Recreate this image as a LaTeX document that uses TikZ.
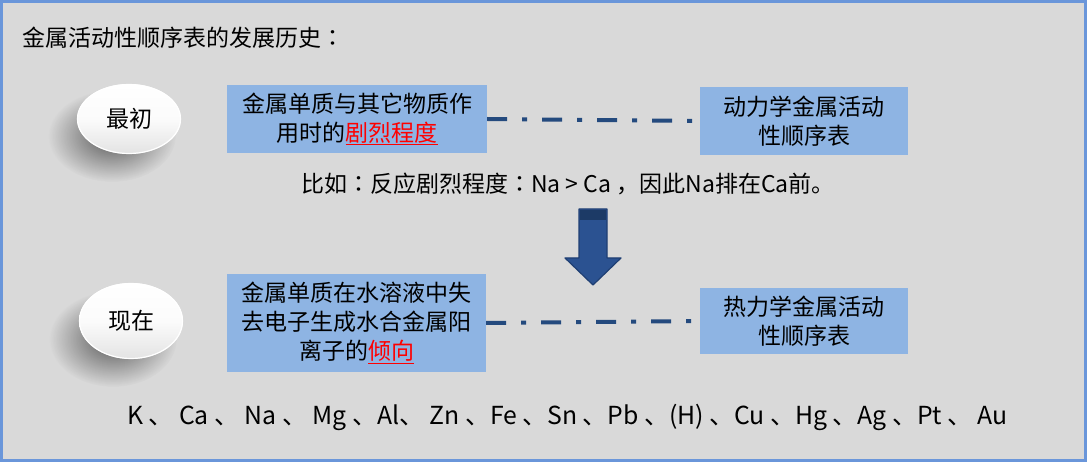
\documentclass[tikz,border=0pt]{standalone}
\usepackage{fontspec}
\setmainfont{Noto Sans CJK SC}
\newfontfamily\jpfont{Noto Sans CJK JP}
\usetikzlibrary{shapes.geometric,fadings}
\definecolor{bg}{HTML}{D9D9D9}
\definecolor{frame}{HTML}{6A96DA}
\definecolor{boxblue}{HTML}{8EB4E3}
\definecolor{dashblue}{HTML}{244A7E}
\definecolor{arrowfill}{HTML}{2B5291}
\definecolor{arrowedge}{HTML}{1F3F73}
\definecolor{arrowtop}{HTML}{1C3A66}
\tikzfading[name=softshadow, inner color=transparent!0, outer color=transparent!100]
\tikzset{
  txt/.style={font=\fontsize{23}{29}\selectfont, inner sep=0pt},
  infobox/.style={txt, fill=boxblue, align=center, minimum height=68, inner sep=0pt},
  bubble/.style={ellipse, txt, minimum width=104, minimum height=70,
    top color=white, bottom color=gray!22, middle color=white!97!gray},
  dashdot/.style={dashblue, line width=4, dash pattern=on 20 off 15 on 5 off 15},
  bubshadow/.style={black, opacity=0.6, path fading=softshadow}
}
\newcommand{\redul}[1]{\textcolor{red}{\underline{#1}}}
\newcommand{\zcolon}{{\jpfont ：}}
\newcommand{\zcomma}{{\jpfont ，}}
\begin{document}
\begin{tikzpicture}[x=1pt,y=-1pt]
\useasboundingbox (0,0) rectangle (1087,462);
\fill[bg] (0,0) rectangle (1087,462);
\draw[frame, line width=3] (1.5,1.5) rectangle (1085.5,460.5);

% title
\node[txt, anchor=west] (title) at (22,38) {金属活动性顺序表的发展历史\zcolon};

% shadows of bubbles
\fill[bubshadow] (112,136) ellipse (64 and 46);
\fill[bubshadow] (113,339) ellipse (64 and 48);

% bubbles
\node[bubble] (e1) at (129,119) {最初};
\draw[white, line width=1.2] (e1.center) ellipse (51.5 and 34.5);
\node[bubble, minimum height=76] (e2) at (131,321) {现在};
\draw[white, line width=1.2] (e2.center) ellipse (51.5 and 37.5);

% boxes
\node[infobox, minimum width=260] (b1) at (357,119) {金属单质与其它物质作\\用时的\redul{剧烈程度}};
\node[infobox, minimum width=208] (b2) at (804,121) {动力学金属活动\\性顺序表};
\node[infobox, minimum width=259, minimum height=98] (b3) at (356.5,323) {金属单质在水溶液中失\\去电子生成水合金属阳\\离子的\redul{倾向}};
\node[infobox, minimum width=208, minimum height=66] (b4) at (804,321) {热力学金属活动\\性顺序表};

% connectors
\draw[dashdot] (b1.east) -- (b2.west);
\draw[dashdot] (b3.east) -- (b4.west);

% example
\node[txt] (ex) at (568,184) {比如\zcolon 反应剧烈程度\zcolon Na > Ca \zcomma 因此Na排在Ca前。};

% block arrow
\coordinate (a1) at (579,209);
\coordinate (a2) at (607,209);
\coordinate (a3) at (607,258);
\coordinate (a4) at (621,258);
\coordinate (a5) at (593,285);
\coordinate (a6) at (565,258);
\coordinate (a7) at (579,258);
\filldraw[fill=arrowfill, draw=arrowedge, line width=1.2, line join=round]
  (a1) -- (a2) -- (a3) -- (a4) -- (a5) -- (a6) -- (a7) -- cycle;
\fill[arrowtop] (579.6,209.6) rectangle (606.4,220);

% series
\node[txt, anchor=west, font=\fontsize{24.8}{29}\selectfont] (series) at (127,417) {K 、 Ca 、 Na 、 Mg 、Al、 Zn 、Fe 、Sn 、Pb 、(H) 、Cu 、Hg 、Ag 、Pt 、 Au};
\end{tikzpicture}
\end{document}
